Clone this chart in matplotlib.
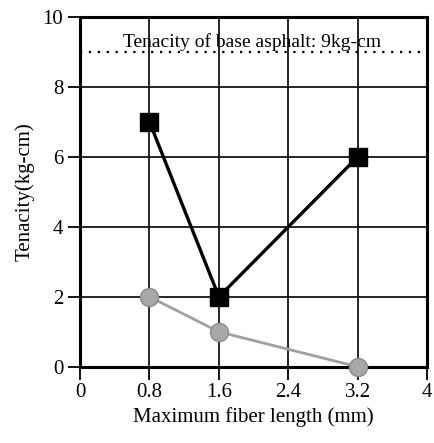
import matplotlib.pyplot as plt

plt.rcParams['font.family'] = ['Liberation Serif', 'DejaVu Serif']

# data
fiber_len = [0.8, 1.6, 3.2]
tenacity_a = [7, 2, 6]      # black squares
tenacity_b = [2, 1, 0]      # gray circles
base_tenacity = 9
base_label = 'Tenacity of base asphalt: 9kg-cm'

xticks = [0, 0.8, 1.6, 2.4, 3.2, 4]
xtick_labels = ['0', '0.8', '1.6', '2.4', '3.2', '4']
yticks = [0, 2, 4, 6, 8, 10]

fig = plt.figure(figsize=(4.35, 4.43), dpi=100)
ax = fig.add_axes([0.184, 0.172, 0.798, 0.79])

ax.set_xlim(0, 4)
ax.set_ylim(0, 10)
ax.set_xticks(xticks)
ax.set_xticklabels(xtick_labels)
ax.set_yticks(yticks)
ax.grid(True, color='k', linewidth=1.2)
ax.set_axisbelow(True)

for s in ax.spines.values():
    s.set_linewidth(2.2)
    s.set_color('k')
ax.tick_params(direction='out', length=9, width=1.3, labelsize=15, pad=3)

# base asphalt reference line
ax.axhline(base_tenacity, color='k', linestyle=(0, (1, 3)), linewidth=1.6, zorder=3)
ax.text(1.98, base_tenacity + 0.02, base_label, ha='center', va='bottom', fontsize=14)

ax.plot(fiber_len, tenacity_b, color='#a0a0a0', linewidth=2, marker='o',
        markersize=13, markerfacecolor='#a8a8a8', markeredgecolor='#8c8c8c', zorder=4,
        clip_on=False)
ax.plot(fiber_len, tenacity_a, color='k', linewidth=2.4, marker='s',
        markersize=13, zorder=5, clip_on=False)

ax.set_xlabel('Maximum fiber length (mm)', fontsize=15, labelpad=3)
ax.set_ylabel('Tenacity(kg-cm)', fontsize=15, labelpad=6)

fig.savefig('out.png', dpi=100)
